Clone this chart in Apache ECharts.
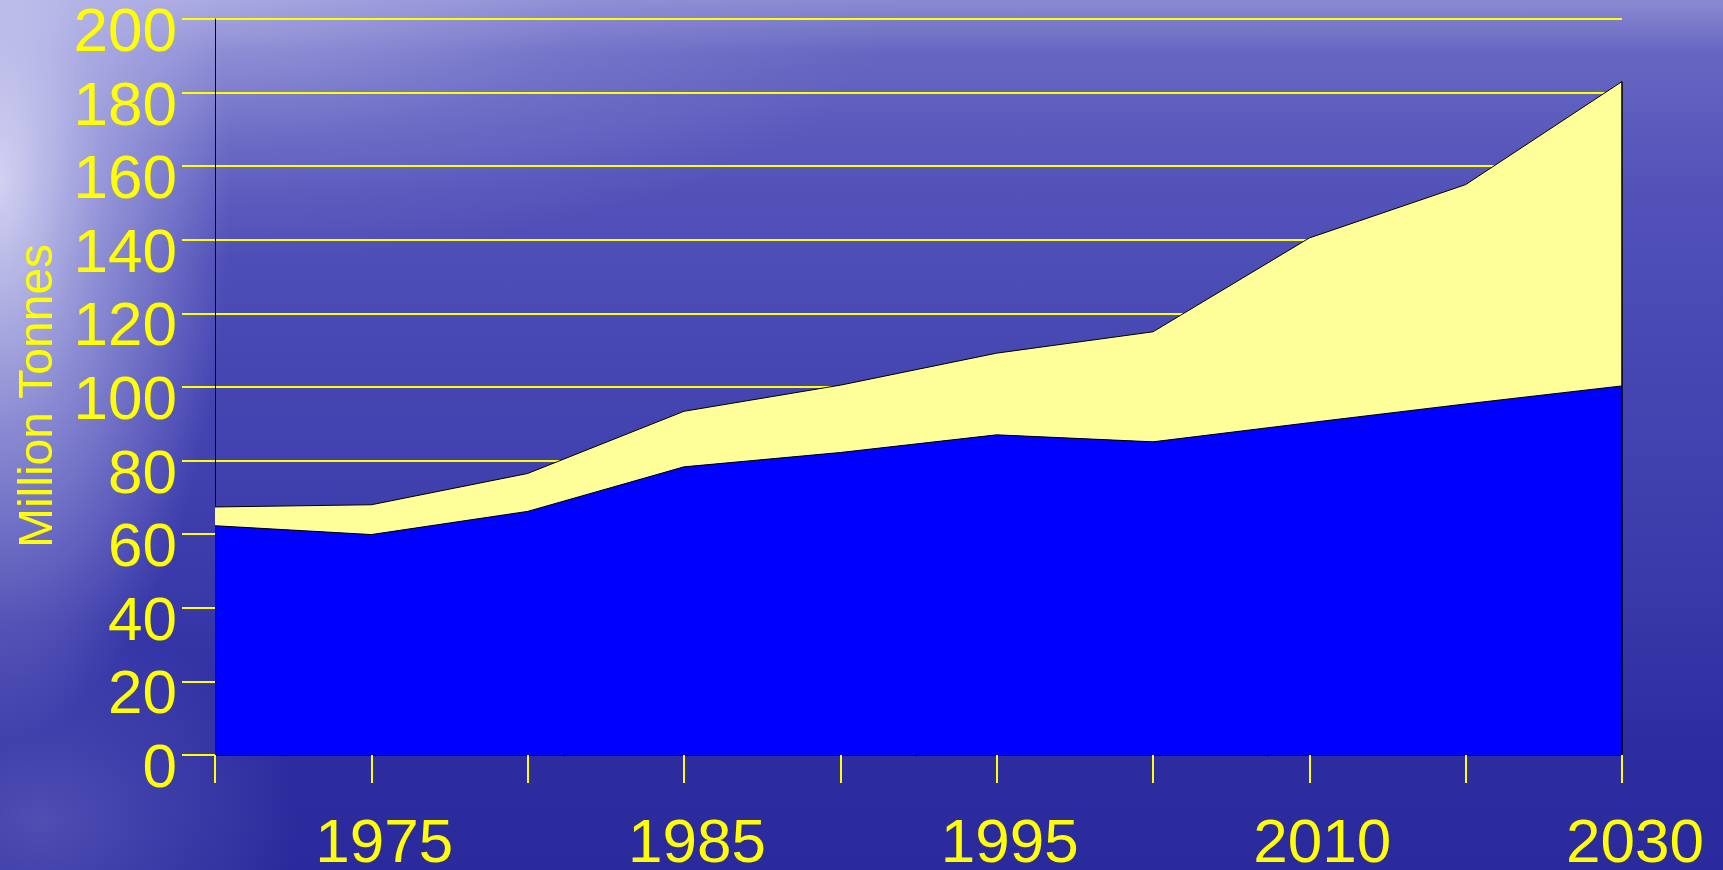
<!DOCTYPE html>
<html>
<head>
<meta charset="utf-8">
<script src="https://cdn.jsdelivr.net/npm/echarts@6/dist/echarts.min.js"></script>
<style>
html, body { margin: 0; padding: 0; width: 1723px; height: 870px; overflow: hidden; }
body {
  background:
    radial-gradient(ellipse 230px 560px at 0px 180px, rgba(222,222,248,0.9) 0%, rgba(195,195,238,0.55) 45%, rgba(160,160,225,0) 100%),
    radial-gradient(ellipse 700px 260px at 200px 0px, rgba(190,190,236,0.6) 0%, rgba(160,160,225,0.25) 55%, rgba(140,140,215,0) 100%),
    radial-gradient(ellipse 260px 200px at 40px 820px, rgba(120,120,205,0.45) 0%, rgba(110,110,200,0) 100%),
    linear-gradient(to bottom, #8a8ad2 0%, #6666c2 6%, #5252b9 22%, #4545b2 45%, #3939aa 68%, #2d2da0 86%, #2a2a9c 100%);
}
#chart { width: 1723px; height: 870px; }
</style>
</head>
<body>
<div id="chart"></div>
<script>
var categories = ['1970', '1975', '1980', '1985', '1990', '1995', '2000', '2010', '2020', '2030'];
var blueValues = [62.3, 59.9, 66.2, 78.3, 82.2, 87.0, 85.1, 90.3, 95.4, 100.3];
var yellowValues = [5.1, 8.1, 10.3, 15.1, 18.3, 22.2, 29.9, 50.2, 59.6, 82.7];
var yTicks = { min: 0, max: 200, interval: 20 };
var yTitle = 'Million Tonnes';

var last = categories.length - 1;
var chart = echarts.init(document.getElementById('chart'), null, { renderer: 'canvas' });
var yellow = '#FFFF00';
chart.setOption({
  backgroundColor: 'transparent',
  animation: false,
  grid: { left: 215, right: 101, top: 19, bottom: 115, outerBoundsMode: 'none' },
  xAxis: {
    type: 'category',
    data: categories,
    boundaryGap: false,
    axisLine: { show: true, lineStyle: { color: '#000000', width: 1 } },
    axisTick: { show: true, interval: 0, length: 28, lineStyle: { color: yellow, width: 2 } },
    axisLabel: {
      interval: function (i) { return i % 2 === 1; },
      color: yellow, fontSize: 62, fontFamily: 'Liberation Sans, Arial, sans-serif',
      margin: 59, padding: [0, 0, 0, 26]
    },
    splitLine: { show: false }
  },
  yAxis: {
    type: 'value',
    min: yTicks.min, max: yTicks.max, interval: yTicks.interval,
    name: yTitle,
    nameLocation: 'middle',
    nameRotate: 90,
    nameGap: 151,
    nameTextStyle: { color: yellow, fontSize: 48, fontFamily: 'Liberation Sans, Arial, sans-serif', padding: [0, 18, 0, 0] },
    axisLine: { show: true, lineStyle: { color: '#000000', width: 1 } },
    axisTick: { show: true, length: 33, lineStyle: { color: yellow, width: 2 } },
    axisLabel: {
      color: yellow, fontSize: 62, fontFamily: 'Liberation Sans, Arial, sans-serif',
      margin: 38, verticalAlign: 'top', lineHeight: 30
    },
    splitLine: { show: true, lineStyle: { color: yellow, width: 2 } }
  },
  series: [
    {
      name: 'lower', type: 'line', stack: 'total', data: blueValues,
      symbol: 'none', showSymbol: false,
      lineStyle: { color: '#000000', width: 1 },
      areaStyle: { color: '#0000FF', opacity: 1 },
      z: 3
    },
    {
      name: 'upper', type: 'line', stack: 'total', data: yellowValues,
      symbol: 'none', showSymbol: false,
      lineStyle: { color: '#000000', width: 1 },
      areaStyle: { color: '#FFFF99', opacity: 1 },
      z: 2,
      markLine: {
        silent: true, symbol: 'none', label: { show: false },
        lineStyle: { color: '#000000', width: 1.5, type: 'solid' },
        data: [[
          { coord: [categories[last], 0] },
          { coord: [categories[last], blueValues[last] + yellowValues[last]] }
        ]]
      }
    }
  ]
});
</script>
</body>
</html>
